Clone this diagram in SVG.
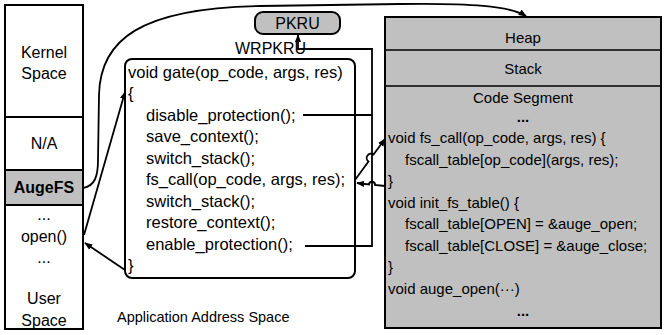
<svg xmlns="http://www.w3.org/2000/svg" width="667" height="335" viewBox="0 0 667 335">
  <defs>
    <marker id="arrow" viewBox="0 0 10 10" refX="9" refY="5" markerWidth="8" markerHeight="8" orient="auto-start-reverse" markerUnits="userSpaceOnUse">
      <path d="M0,1 L10,5 L0,9 Z" fill="#000"/>
    </marker>
    <style>
      text { font-family: "Liberation Sans", Arial, sans-serif; font-size: 16px; fill: #000; }
      .c { text-anchor: middle; }
      .box { fill: #fff; stroke: #000; stroke-width: 2; }
      .grey { fill: #c0c0c0; stroke: #000; stroke-width: 2; }
      .wire { fill: none; stroke: #000; stroke-width: 1.8; }
      .cap { font-size: 14.5px; }
      .gate text { font-size: 16.5px; }
      .seg text { font-size: 15px; }
    </style>
  </defs>

  <!-- application address space column -->
  <g id="address-space">
    <rect class="box" x="5" y="5" width="78" height="324"/>
    <line x1="5" y1="117" x2="83" y2="117" stroke="#000" stroke-width="2"/>
    <rect class="grey" x="5" y="170" width="78" height="35"/>
    <text class="c" x="44" y="58">Kernel</text>
    <text class="c" x="44" y="79">Space</text>
    <text class="c" x="44" y="149">N/A</text>
    <text class="c" x="44" y="193" font-weight="bold">AugeFS</text>
    <text class="c" x="44" y="220">...</text>
    <text class="c" x="44" y="242">open()</text>
    <text class="c" x="44" y="263">...</text>
    <text class="c" x="44" y="304">User</text>
    <text class="c" x="44" y="326">Space</text>
  </g>

  <text class="cap" x="117" y="322">Application Address Space</text>

  <!-- PKRU register -->
  <g id="pkru">
    <rect class="grey" x="255" y="12" width="85" height="22" rx="8"/>
    <text class="c" x="297.5" y="29">PKRU</text>
  </g>

  <!-- gate function -->
  <g id="gate" class="gate">
    <rect class="box" x="125" y="59" width="230" height="219" rx="7"/>
    <text x="128" y="78">void gate(op_code, args, res)</text>
    <text x="128" y="99">{</text>
    <text x="146" y="121">disable_protection();</text>
    <text x="146" y="142">save_context();</text>
    <text x="146" y="164">switch_stack();</text>
    <text x="146" y="185">fs_call(op_code, args, res);</text>
    <text x="146" y="207">switch_stack();</text>
    <text x="146" y="228">restore_context();</text>
    <text x="146" y="250">enable_protection();</text>
    <text x="128" y="271">}</text>
  </g>

  <!-- AugeFS memory layout -->
  <g id="augefs" class="seg">
    <rect class="grey" x="385" y="17" width="276" height="311"/>
    <line x1="385" y1="50" x2="661" y2="50" stroke="#000" stroke-width="1.5"/>
    <line x1="385" y1="86" x2="661" y2="86" stroke="#000" stroke-width="1.5"/>
    <text class="c" x="523" y="43">Heap</text>
    <text class="c" x="523" y="74">Stack</text>
    <text class="c" x="523" y="103">Code Segment</text>
    <text class="c" x="523" y="122" font-weight="bold">...</text>
    <text x="388" y="143">void fs_call(op_code, args, res) {</text>
    <text x="405" y="165">fscall_table[op_code](args, res);</text>
    <text x="388" y="186">}</text>
    <text x="388" y="208">void init_fs_table() {</text>
    <text x="405" y="229">fscall_table[OPEN] = &amp;auge_open;</text>
    <text x="405" y="251">fscall_table[CLOSE] = &amp;auge_close;</text>
    <text x="388" y="272">}</text>
    <text x="388" y="294">void auge_open(···)</text>
    <text class="c" x="523" y="316" font-weight="bold">...</text>
  </g>

  <!-- connectors -->
  <g id="connectors">
    <!-- AugeFS to heap -->
    <path class="wire" d="M83,188 C95,186 98,176 98,160 L99,95 C100,40 140,8 260,6 L400,4 C470,3 510,6 526,16" marker-end="url(#arrow)"/>
    <!-- open() into gate -->
    <path class="wire" d="M84,235 L125,92" marker-end="url(#arrow)"/>
    <!-- gate back to open() -->
    <path class="wire" d="M125,270 L85,243" marker-end="url(#arrow)"/>
    <!-- protection toggles to PKRU -->
    <path class="wire" d="M303,115 H372 V49 H298 V35" marker-end="url(#arrow)"/>
    <path class="wire" d="M305,246 H372 V115"/>
    <text x="235" y="54" font-size="13.5">WRPKRU</text>
    <!-- fs_call into code segment, with hop over the vertical wire -->
    <path class="wire" d="M355,180 L368.5,161.5 A3,3 0 0 1 373.5,154.5 L385,139" marker-end="url(#arrow)"/>
    <!-- return from code segment -->
    <path class="wire" d="M385,186 L375,185 A3,3 0 0 0 369,184.5 L357,183" marker-end="url(#arrow)"/>
  </g>
</svg>
